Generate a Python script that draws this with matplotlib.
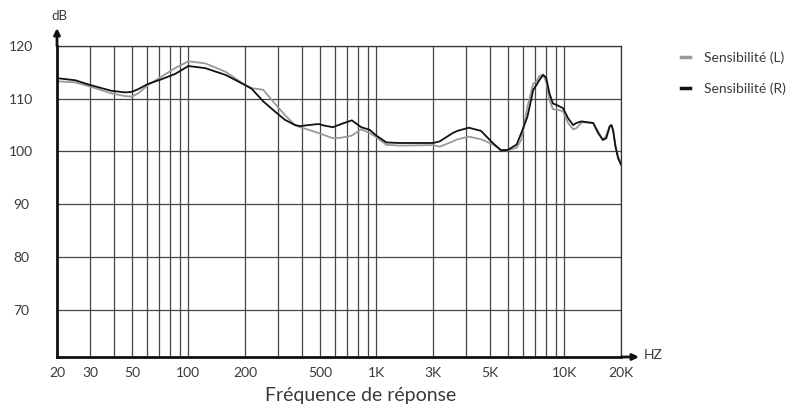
import numpy as np
from matplotlib import pyplot as plt
from matplotlib.ticker import LogLocator, NullFormatter, FixedLocator

plt.rcParams["font.family"] = ["Lato", "DejaVu Sans"]

# frequency points (Hz)
freq = [20, 25, 30, 39, 46, 50, 54, 61, 72, 85, 100, 123, 158, 200, 217, 250,
        288, 326, 369, 393, 436, 491, 528, 587, 650, 740, 830, 920, 1000, 1130,
        1330, 2000, 2170, 2550, 2700, 3100, 3600, 4130, 4600, 5000, 5570, 5900,
        6360, 6830, 7100, 7380, 7700, 8000, 8330, 8680, 9240, 9830, 10460,
        11130, 11590, 12340, 13380, 14220, 15110, 16010, 16700, 17400, 17770,
        18140, 18690, 19300, 20000]

sens_r = [113.9, 113.5, 112.6, 111.5, 111.2, 111.3, 111.8, 112.8, 113.7, 114.7,
          116.2, 115.8, 114.5, 112.6, 111.9, 109.5, 107.6, 106.0, 105.0, 104.8,
          105.0, 105.2, 104.9, 104.6, 105.2, 105.9, 104.6, 104.1, 103.0, 101.7,
          101.6, 101.6, 101.9, 103.5, 103.9, 104.5, 103.9, 101.7, 100.2, 100.3,
          101.3, 103.5, 106.6, 111.7, 112.6, 113.6, 114.5, 114.0, 111.0, 109.1,
          108.7, 108.2, 106.3, 105.0, 105.4, 105.7, 105.5, 105.4, 103.5, 102.2,
          102.5, 104.7, 105.0, 104.1, 100.9, 98.7, 97.5]

sens_l = [113.3, 113.1, 112.3, 111.0, 110.5, 110.4, 111.0, 112.6, 114.2, 115.8,
          117.1, 116.7, 115.1, 112.6, 112.0, 111.7, 109.1, 106.9, 105.0, 104.6,
          104.1, 103.5, 103.1, 102.5, 102.6, 103.0, 104.2, 103.5, 102.7, 101.25,
          101.1, 101.2, 100.9, 101.9, 102.3, 102.8, 102.3, 101.4, 100.3, 100.2,
          100.7, 102.2, 108.5, 112.9, 113.3, 114.3, 114.6, 113.2, 109.8, 108.0,
          107.9, 107.6, 105.4, 104.2, 104.4, 105.5, 105.5, 105.4, 103.8, 102.1,
          103.1, 104.8, 105.0, 104.1, 101.25, 99.0, 97.8]

# tick labels as they sit in the picture
xtick_pos = [20, 30, 50, 100, 200, 500, 1000, 2000, 4000, 10000, 20000]
xtick_lab = ["20", "30", "50", "100", "200", "500", "1K", "3K", "5K", "10K", "20K"]
yticks = [70, 80, 90, 100, 110, 120]

W, H = 790, 408
fig = plt.figure(figsize=(W / 100, H / 100), dpi=100)
ax = fig.add_axes([57 / W, 1 - 357 / H, (621 - 57) / W, (357 - 46) / H])

ax.set_xscale("log")
ax.set_xlim(20, 20000)
ax.set_ylim(61, 120)

ax.plot(freq, sens_l, color="#9a9a9a", lw=1.3, label="Sensibilité (L)")
ax.plot(freq, sens_r, color="#111111", lw=1.3, label="Sensibilité (R)")

# grid
ax.xaxis.set_major_locator(FixedLocator(xtick_pos))
ax.set_xticklabels(xtick_lab)
ax.xaxis.set_minor_locator(LogLocator(base=10, subs=range(1, 10)))
ax.xaxis.set_minor_formatter(NullFormatter())
ax.grid(which="both", axis="x", color="#444444", lw=0.9)
ax.set_yticks(yticks)
ax.grid(which="major", axis="y", color="#444444", lw=0.9)
ax.set_axisbelow(True)

ax.tick_params(axis="both", which="both", length=0, labelsize=10, colors="#3a3a3a")
ax.tick_params(axis="x", pad=7)
ax.tick_params(axis="y", pad=26)
for lab in ax.get_yticklabels():
    lab.set_ha("center")

for s in ["top", "right"]:
    ax.spines[s].set_color("#333333")
    ax.spines[s].set_linewidth(0.9)
for s in ["left", "bottom"]:
    ax.spines[s].set_color("#111111")
    ax.spines[s].set_linewidth(2)

# axis arrows
arr = dict(arrowstyle="-|>", lw=2, color="#111111", mutation_scale=9, shrinkA=0, shrinkB=0)
ax.annotate("", xy=(57 / W, 1 - 28 / H), xytext=(57 / W, 1 - 46 / H),
            xycoords="figure fraction", arrowprops=arr)
ax.annotate("", xy=(639 / W, 1 - 357 / H), xytext=(621 / W, 1 - 357 / H),
            xycoords="figure fraction", arrowprops=arr)

fig.text(59 / W, 1 - 16 / H, "dB", ha="center", va="center", fontsize=9.5, color="#3a3a3a")
fig.text(653 / W, 1 - 355 / H, "HZ", ha="center", va="center", fontsize=10, color="#3a3a3a")
fig.text(361 / W, 1 - 396 / H, "Fréquence de réponse", ha="center", va="center",
         fontsize=14, color="#3a3a3a")

leg = ax.legend(loc="upper left", bbox_to_anchor=(668 / W, 1 - 39 / H),
                bbox_transform=fig.transFigure, frameon=False, fontsize=10,
                handlelength=0.7, handletextpad=1.0, labelspacing=1.35)
for h in leg.get_lines():
    h.set_linewidth(2.5)
for t in leg.get_texts():
    t.set_color("#3a3a3a")

fig.savefig("out.png", dpi=100)
